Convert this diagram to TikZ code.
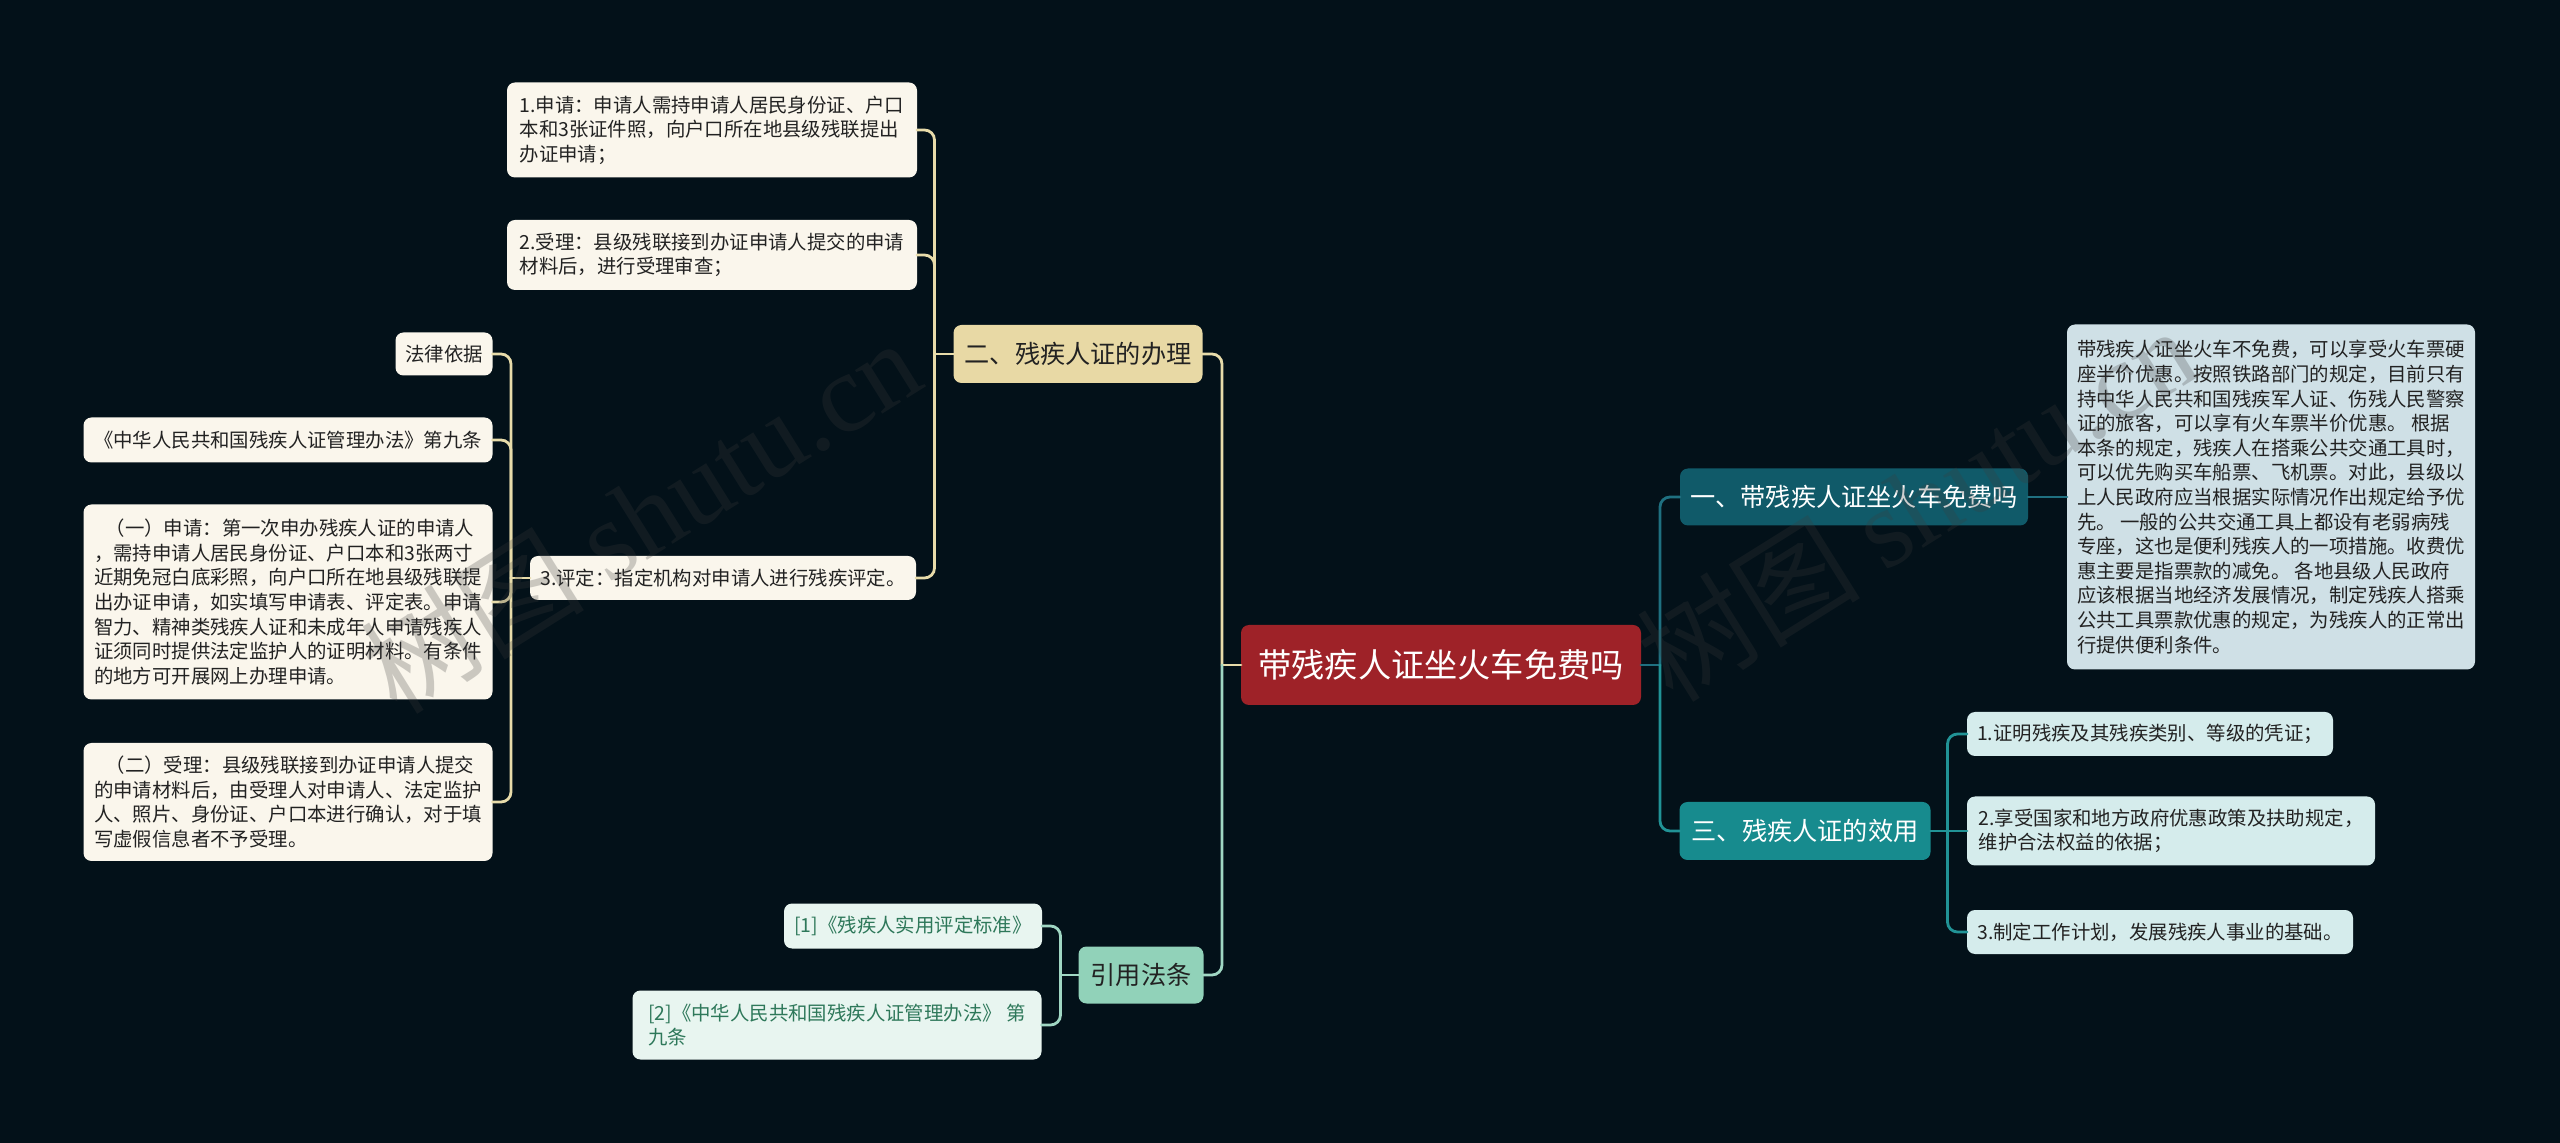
\documentclass[tikz,border=0pt]{standalone}
\usepackage{fontspec}
\newfontfamily\cjk{Noto Sans CJK SC}
\newfontfamily\wmserif{Liberation Serif}
\usetikzlibrary{calc}
\definecolor{bg}{RGB}{3,17,25}
\definecolor{rootfill}{RGB}{158,34,40}
\definecolor{dtealfill}{RGB}{16,90,105}
\definecolor{tealfill}{RGB}{23,139,142}
\definecolor{detailfill}{RGB}{207,224,230}
\definecolor{efill}{RGB}{213,236,236}
\definecolor{beigefill}{RGB}{232,217,165}
\definecolor{creamfill}{RGB}{250,246,236}
\definecolor{mintfill}{RGB}{145,210,185}
\definecolor{cfill}{RGB}{232,245,240}
\definecolor{ctext}{RGB}{46,120,90}
\definecolor{darktext}{RGB}{34,34,34}
\definecolor{beigeline}{RGB}{232,220,170}
\definecolor{dtealline}{RGB}{31,112,128}
\definecolor{tealline}{RGB}{33,147,150}
\definecolor{mintline}{RGB}{160,215,195}
\definecolor{wmcol}{RGB}{60,60,60}
\begin{document}
\begin{tikzpicture}[x=0.5pt,y=-0.5pt,
  every node/.style={outer sep=0pt},
  boxbase/.style={rounded corners=4pt, inner xsep=4pt, inner ysep=3pt, align=left},
  body/.style={boxbase, text=darktext, font=\cjk\fontsize{9.7pt}{12.3pt}\selectfont},
  creambox/.style={body, fill=creamfill},
  ebox/.style={body, fill=efill},
  detailbox/.style={body, fill=detailfill},
  cbox/.style={boxbase, fill=cfill, text=ctext, font=\cjk\fontsize{9.7pt}{12.3pt}\selectfont},
  lvlone/.style={boxbase, align=center, font=\cjk\fontsize{12.6pt}{15pt}\selectfont},
  rootbox/.style={boxbase, align=center, fill=rootfill, text=white, font=\cjk\fontsize{16.6pt}{20pt}\selectfont},
  conn/.style={line width=1.4pt, line cap=round, rounded corners=5pt},
  wm/.style={text=wmcol, text opacity=0.25, rotate=32, font=\fontsize{56pt}{60pt}\selectfont}
]
\useasboundingbox (0,0) rectangle (2560,1143);
\fill[bg] (0,0) rectangle (2560,1143);

% root
\node[rootbox, minimum width=200pt, minimum height=40pt] (root) at (1441,665) {带残疾人证坐火车免费吗};

% level one
\node[lvlone, fill=dtealfill, text=white, minimum width=174pt, minimum height=28.5pt] (n1) at (1854,497) {一、带残疾人证坐火车免费吗};
\node[lvlone, fill=tealfill, text=white, minimum width=125.5pt, minimum height=29pt] (n3) at (1805,831) {三、残疾人证的效用};
\node[lvlone, fill=beigefill, text=darktext, minimum width=124.5pt, minimum height=29pt] (n2) at (1078,354) {二、残疾人证的办理};
\node[lvlone, fill=mintfill, text=darktext, minimum width=62.5pt, minimum height=28.5pt] (n4) at (1141,975) {引用法条};

% detail of n1
\node[detailbox, minimum width=204pt, minimum height=172.5pt] (d1) at (2271,497) {带残疾人证坐火车不免费，可以享受火车票硬\\座半价优惠。按照铁路部门的规定，目前只有\\持中华人民共和国残疾军人证、伤残人民警察\\证的旅客，可以享有火车票半价优惠。 根据\\本条的规定，残疾人在搭乘公共交通工具时，\\可以优先购买车船票、飞机票。对此，县级以\\上人民政府应当根据实际情况作出规定给予优\\先。 一般的公共交通工具上都设有老弱病残\\专座，这也是便利残疾人的一项措施。收费优\\惠主要是指票款的减免。 各地县级人民政府\\应该根据当地经济发展情况，制定残疾人搭乘\\公共工具票款优惠的规定，为残疾人的正常出\\行提供便利条件。};

% children of n3
\node[ebox, minimum width=183pt, minimum height=22pt] (e1) at (2150,734) {1.证明残疾及其残疾类别、等级的凭证；};
\node[ebox, minimum width=204pt, minimum height=34.5pt] (e2) at (2171,831) {2.享受国家和地方政府优惠政策及扶助规定，\\维护合法权益的依据；};
\node[ebox, minimum width=193pt, minimum height=22pt] (e3) at (2160,932) {3.制定工作计划，发展残疾人事业的基础。};

% children of n2
\node[creambox, minimum width=205pt, minimum height=47.5pt] (a1) at (712,130) {1.申请：申请人需持申请人居民身份证、户口\\本和3张证件照，向户口所在地县级残联提出\\办证申请；};
\node[creambox, minimum width=205pt, minimum height=35pt] (a2) at (712,255) {2.受理：县级残联接到办证申请人提交的申请\\材料后，进行受理审查；};
\node[creambox, minimum width=193pt, minimum height=22pt] (a3) at (723,578) {3.评定：指定机构对申请人进行残疾评定。};

% children of a3
\node[creambox, minimum width=48.5pt, minimum height=21.5pt] (b1) at (444,354) {法律依据};
\node[creambox, minimum width=204.5pt, minimum height=22.5pt] (b2) at (288,440) {《中华人民共和国残疾人证管理办法》第九条};
\node[creambox, minimum width=204.5pt, minimum height=97.5pt] (b3) at (288,602) {\hspace{0.6em}（一）申请：第一次申办残疾人证的申请人\\，需持申请人居民身份证、户口本和3张两寸\\近期免冠白底彩照，向户口所在地县级残联提\\出办证申请，如实填写申请表、评定表。申请\\智力、精神类残疾人证和未成年人申请残疾人\\证须同时提供法定监护人的证明材料。有条件\\的地方可开展网上办理申请。};
\node[creambox, minimum width=204.5pt, minimum height=59pt] (b4) at (288,802) {\hspace{0.6em}（二）受理：县级残联接到办证申请人提交\\的申请材料后，由受理人对申请人、法定监护\\人、照片、身份证、户口本进行确认，对于填\\写虚假信息者不予受理。};

% children of n4
\node[cbox, minimum width=129pt, minimum height=22.5pt] (c1) at (913,926) {[1]《残疾人实用评定标准》};
\node[cbox, minimum width=204.5pt, minimum height=34.5pt] (c2) at (837,1025) {[2]《中华人民共和国残疾人证管理办法》 第\\九条};

% trunk coordinates
\coordinate (tL) at ($(root.west)+(-19,0)$);
\coordinate (tR) at ($(root.east)+(19,0)$);
\coordinate (t3) at ($(n3.east)+(17,0)$);
\coordinate (t2) at ($(n2.west)+(-19,0)$);
\coordinate (ta) at ($(a3.west)+(-19,0)$);
\coordinate (t4) at ($(n4.west)+(-18,0)$);

% connectors: root left
\draw[conn, beigeline] (root.west) -- (tL);
\draw[conn, beigeline] (n2.east) -| (tL);
\draw[conn, mintline] (n4.east) -| (tL);
% root right
\draw[conn, dtealline] (root.east) -- (tR);
\draw[conn, dtealline] (n1.west) -| (tR);
\draw[conn, tealline] (n3.west) -| (tR);
\draw[conn, dtealline] (n1.east) -- (d1.west);
% n3 children
\draw[conn, tealline] (n3.east) -- (t3);
\draw[conn, tealline] (e1.west) -| (t3);
\draw[conn, tealline] (e2.west) -- (t3);
\draw[conn, tealline] (e3.west) -| (t3);
% n2 children
\draw[conn, beigeline] (n2.west) -- (t2);
\draw[conn, beigeline] (a1.east) -| (t2);
\draw[conn, beigeline] (a2.east) -| (t2);
\draw[conn, beigeline] (a3.east) -| (t2);
% a3 children
\draw[conn, beigeline] (a3.west) -- (ta);
\draw[conn, beigeline] (b1.east) -| (ta);
\draw[conn, beigeline] (b2.east) -| (ta);
\draw[conn, beigeline] (b3.east) -| (ta);
\draw[conn, beigeline] (b4.east) -| (ta);
% n4 children
\draw[conn, mintline] (n4.west) -- (t4);
\draw[conn, mintline] (c1.east) -| (t4);
\draw[conn, mintline] (c2.east) -| (t4);

% watermarks
\node[wm] (wmL) at (640,515) {\cjk 树图 \wmserif shutu.cn};
\node[wm] (wmR) at (1916,503) {\cjk 树图 \wmserif shutu.cn};
\end{tikzpicture}
\end{document}
